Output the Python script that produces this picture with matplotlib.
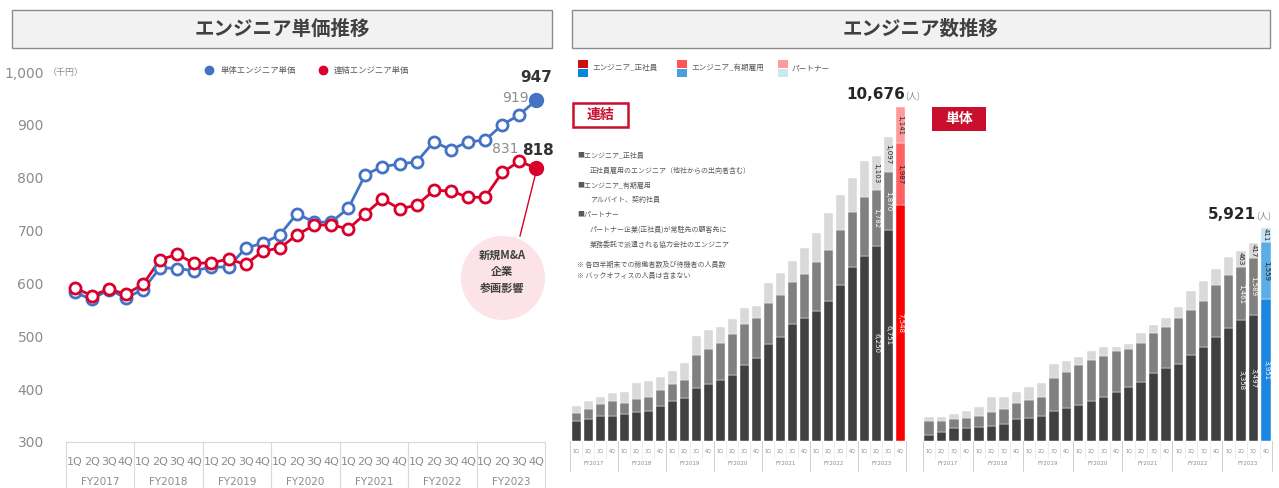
import numpy as np
import matplotlib
matplotlib.use("Agg")
import matplotlib.pyplot as plt
from matplotlib.lines import Line2D
from matplotlib.patches import Rectangle, Ellipse
import matplotlib.transforms as mtrans

plt.rcParams['font.family'] = ['Noto Sans CJK JP', 'DejaVu Sans']

#%% データ
quarters = ['1Q', '2Q', '3Q', '4Q']
years = ['FY2017', 'FY2018', 'FY2019', 'FY2020', 'FY2021', 'FY2022', 'FY2023']

# エンジニア単価（千円）
price_single = [583, 570, 588, 573, 588, 630, 628, 624, 631, 631, 667, 676, 692, 732,
                716, 716, 742, 806, 821, 826, 830, 868, 853, 868, 871, 900, 919, 947]
price_consol = [592, 577, 589, 580, 598, 645, 655, 638, 639, 646, 636, 661, 667, 692,
                710, 711, 703, 732, 760, 741, 748, 776, 775, 763, 763, 810, 831, 818]

# エンジニア数（連結）
cons_regular = [650, 704, 800, 800, 854, 918, 970, 1120, 1290, 1366, 1686, 1814, 1952, 2112,
                2432, 2646, 3094, 3318, 3734, 3926, 4160, 4490, 4992, 5568, 5920, 6250, 6751, 7548]
cons_fixed = [256, 320, 374, 490, 372, 416, 448, 512, 524, 586, 1066, 1140, 1194, 1302,
              1302, 1280, 1332, 1354, 1344, 1418, 1558, 1622, 1760, 1770, 1888, 1782, 1870, 1987]
cons_partner = [214, 256, 244, 236, 352, 532, 502, 426, 436, 534, 608, 598, 512, 480,
                512, 394, 620, 714, 692, 836, 948, 1184, 1120, 1088, 1152, 1103, 1097, 1141]

# エンジニア数（単体）
single_regular = [157, 240, 351, 351, 379, 425, 472, 611, 648, 694, 832, 907, 1008, 1110,
                  1230, 1369, 1508, 1628, 1878, 2017, 2137, 2378, 2599, 2877, 3127, 3358, 3497, 3951]
single_fixed = [407, 324, 260, 297, 315, 371, 407, 453, 490, 536, 907, 999, 1101, 1129,
                1138, 1138, 1045, 1101, 1128, 1156, 1267, 1257, 1295, 1452, 1480, 1461, 1589, 1559]
single_partner = [111, 111, 138, 194, 259, 434, 351, 305, 370, 370, 398, 314, 213, 268,
                  231, 111, 130, 277, 213, 231, 324, 537, 555, 444, 490, 463, 417, 411]

W, H = 1279, 488
def fx(px):
    return px / W
def fy(py):
    return 1 - py / H

BLUE = '#4472C4'
RED = '#D9002B'
GRAY_TXT = '#8c8c8c'

fig = plt.figure(figsize=(W / 100, H / 100), dpi=100)

#%% タイトルボックス
for x0, x1, title in [(12, 552, 'エンジニア単価推移'), (572, 1270, 'エンジニア数推移')]:
    fig.add_artist(Rectangle((fx(x0), fy(48)), fx(x1) - fx(x0), fy(10) - fy(48),
                             transform=fig.transFigure, facecolor='#f2f2f2',
                             edgecolor='#8c8c8c', linewidth=1))
    fig.text(fx((x0 + x1) / 2), fy(29), title, ha='center', va='center',
             fontsize=14, fontweight='bold', color='#404040')

#%% 単価推移（折れ線）
n = len(price_single)
xs = np.arange(n)
ax1 = fig.add_axes([fx(66), fy(442), fx(545) - fx(66), fy(72) - fy(442)])
ax1.set_xlim(-0.5, n - 0.5)
ax1.set_ylim(300, 1000)
for s in ['top', 'right', 'left']:
    ax1.spines[s].set_visible(False)
ax1.spines['bottom'].set_color('#d9d9d9')
ax1.set_xticks([])
ax1.set_yticks(np.arange(300, 1001, 100))
ax1.set_yticklabels([f'{v:,}' for v in range(300, 1001, 100)], color=GRAY_TXT, fontsize=10,
                    family=['DejaVu Sans'])
ax1.tick_params(axis='y', length=0, pad=16)

for vals, col in [(price_single, BLUE), (price_consol, RED)]:
    ax1.plot(xs, vals, color=col, lw=2, zorder=2)
    ax1.plot(xs[:-1], vals[:-1], ls='', marker='o', ms=8, mfc='white', mec=col, mew=2, zorder=3)
    ax1.plot(xs[-1:], vals[-1:], ls='', marker='o', ms=10, mfc=col, mec=col, zorder=3)

ax1.annotate(f'{price_single[-1]:,}', (xs[-1], price_single[-1]), xytext=(0, 11),
             textcoords='offset points', ha='center', va='bottom', fontsize=11,
             fontweight='bold', color='#333333', family=['DejaVu Sans'])
ax1.annotate(f'{price_single[-2]:,}', (xs[-2], price_single[-2]), xytext=(-3, 7),
             textcoords='offset points', ha='center', va='bottom', fontsize=10,
             color=GRAY_TXT, family=['DejaVu Sans'])
ax1.annotate(f'{price_consol[-2]:,}', (xs[-2], price_consol[-2]), xytext=(-10, 4),
             textcoords='offset points', ha='center', va='bottom', fontsize=10,
             color=GRAY_TXT, family=['DejaVu Sans'])
ax1.annotate(f'{price_consol[-1]:,}', (xs[-1], price_consol[-1]), xytext=(1, 7),
             textcoords='offset points', ha='center', va='bottom', fontsize=11,
             fontweight='bold', color='#333333', family=['DejaVu Sans'])

# 新規M&A 注記
fig.add_artist(Ellipse((fx(503), fy(278)), 84 / W, 84 / H, transform=fig.transFigure,
                       facecolor='#fbe3e7', edgecolor='none', zorder=1))
fig.add_artist(Line2D([fx(537), fx(520)], [fy(168), fy(236)], color=RED, lw=1))
fig.text(fx(502), fy(272), '新規M&A\n企業\n参画影響', ha='center', va='center',
         fontsize=8, fontweight='bold', color='#404040', linespacing=1.35)

# 凡例・単位
handles = [Line2D([], [], ls='', marker='o', ms=6, color=BLUE),
           Line2D([], [], ls='', marker='o', ms=6, color=RED)]
ax1.legend(handles, ['単体エンジニア単価', '連結エンジニア単価'], loc='center',
           bbox_to_anchor=(fx(305), fy(70)), bbox_transform=fig.transFigure, ncol=2,
           frameon=False, fontsize=6, handletextpad=0.4, columnspacing=2.2,
           labelcolor='#595959')
fig.text(fx(48), fy(72), '（千円）', ha='left', va='center', fontsize=6.5, color=GRAY_TXT)

# x軸カテゴリ
trans1 = mtrans.blended_transform_factory(ax1.transData, ax1.transAxes)
for i in range(n):
    ax1.text(i, -0.054, quarters[i % 4], transform=trans1, ha='center', va='center',
             fontsize=8, color=GRAY_TXT, family=['DejaVu Sans'])
for k, yr in enumerate(years):
    ax1.text(4 * k + 1.5, -0.108, yr, transform=trans1, ha='center', va='center',
             fontsize=7.5, color=GRAY_TXT, family=['DejaVu Sans'])
for k in range(len(years) + 1):
    ax1.plot([4 * k - 0.5] * 2, [0, -0.2], transform=trans1, color='#d9d9d9', lw=0.8,
             clip_on=False)

#%% エンジニア数（積み上げ棒）
def bar_panel(left, right, ymax, reg, fix, par, last_cols, total_label_dx):
    ax = fig.add_axes([fx(left), fy(441), fx(right) - fx(left), fy(97) - fy(441)])
    m = len(reg)
    x = np.arange(m)
    reg = np.array(reg)
    fix = np.array(fix)
    par = np.array(par)
    c_reg = ['#404040'] * (m - 1) + [last_cols[0]]
    c_fix = ['#808080'] * (m - 1) + [last_cols[1]]
    c_par = ['#d9d9d9'] * (m - 1) + [last_cols[2]]
    ax.bar(x, reg, width=0.75, color=c_reg, edgecolor='white', linewidth=0.3)
    ax.bar(x, fix, bottom=reg, width=0.75, color=c_fix, edgecolor='white', linewidth=0.3)
    ax.bar(x, par, bottom=reg + fix, width=0.75, color=c_par, edgecolor='white', linewidth=0.3)
    ax.set_xlim(-0.5, m - 0.5)
    ax.set_ylim(0, ymax)
    ax.axis('off')

    # 直近3四半期の値ラベル
    for i in range(m - 3, m):
        segs = [(reg[i], 0, 'white'), (fix[i], reg[i], '#222222' if i == m - 1 else 'white'),
                (par[i], reg[i] + fix[i], '#222222')]
        for v, b, tc in segs:
            ax.text(i, b + v / 2, f'{v:,}', rotation=270, ha='center', va='center',
                    fontsize=5, color=tc, family=['DejaVu Sans'])

    total = reg[-1] + fix[-1] + par[-1]
    ax.annotate(f'{total:,}', (m - 1, total), xytext=(total_label_dx, 4),
                textcoords='offset points', ha='right', va='bottom', fontsize=11,
                fontweight='bold', color='#262626', family=['DejaVu Sans'])
    ax.annotate('(人)', (m - 1, total), xytext=(total_label_dx, 4.5),
                textcoords='offset points', ha='left', va='bottom', fontsize=6.5,
                color=GRAY_TXT)

    tr = mtrans.blended_transform_factory(ax.transData, ax.transAxes)
    for i in range(m):
        ax.text(i, -0.03, quarters[i % 4], transform=tr, ha='center', va='center',
                fontsize=3.5, color=GRAY_TXT, family=['DejaVu Sans'])
        ax.plot([i - 0.5] * 2, [0, -0.05], transform=tr, color='#e0e0e0', lw=0.4,
                clip_on=False)
    for k, yr in enumerate(years):
        ax.text(4 * k + 1.5, -0.066, yr, transform=tr, ha='center', va='center',
                fontsize=4, color=GRAY_TXT, family=['DejaVu Sans'])
    for k in range(len(years) + 1):
        ax.plot([4 * k - 0.5] * 2, [0, -0.088], transform=tr, color='#d0d0d0', lw=0.7,
                clip_on=False)
    return ax

bar_panel(570, 906, 344 * 32, cons_regular, cons_fixed, cons_partner,
          ['#ff0000', '#ff6060', '#ff9a9a'], 4)
bar_panel(922.8, 1272.2, 344 * 27.75, single_regular, single_fixed, single_partner,
          ['#1a86e0', '#5aaee5', '#c4e2f5'], -7)

# 連結・単体ラベル
fig.add_artist(Rectangle((fx(573), fy(127)), fx(628) - fx(573), fy(103) - fy(127),
                         transform=fig.transFigure, facecolor='white', edgecolor='#c8102e',
                         linewidth=1.8))
fig.text(fx(600.5), fy(115), '連結', ha='center', va='center', fontsize=10,
         fontweight='bold', color='#c8102e')
fig.add_artist(Rectangle((fx(932), fy(131)), fx(986) - fx(932), fy(107) - fy(131),
                         transform=fig.transFigure, facecolor='#c8102e', edgecolor='none'))
fig.text(fx(959), fy(119), '単体', ha='center', va='center', fontsize=10,
         fontweight='bold', color='white')

# 右上凡例
leg_items = [(578, '#cc1010', '#0a84e0', 'エンジニア_正社員'),
             (677, '#ff5555', '#4aa0da', 'エンジニア_有期雇用'),
             (778, '#ff9aa0', '#cde8f5', 'パートナー')]
for lx, ctop, cbot, lab in leg_items:
    fig.add_artist(Rectangle((fx(lx), fy(68)), 10 / W, 8 / H, transform=fig.transFigure,
                             facecolor=ctop, edgecolor='none'))
    fig.add_artist(Rectangle((fx(lx), fy(77)), 10 / W, 8 / H, transform=fig.transFigure,
                             facecolor=cbot, edgecolor='none'))
    fig.text(fx(lx + 14), fy(68), lab, ha='left', va='center', fontsize=5.5, color='#595959')

# 注記テキスト
notes = [(577, 156, '■エンジニア_正社員'),
         (590, 171, '正社員雇用のエンジニア（他社からの出向者含む）'),
         (577, 186, '■エンジニア_有期雇用'),
         (590, 200, 'アルバイト、契約社員'),
         (577, 215, '■パートナー'),
         (590, 230, 'パートナー企業(正社員)が常駐先の顧客先に'),
         (590, 245, '業務委託で派遣される協力会社のエンジニア'),
         (577, 265, '※ 各四半期末での稼働者数及び待機者の人員数'),
         (577, 276, '※ バックオフィスの人員は含まない')]
for nx, ny, t in notes:
    fig.text(fx(nx), fy(ny), t, ha='left', va='center', fontsize=5, color='#595959')

fig.savefig('out.png', dpi=100)
